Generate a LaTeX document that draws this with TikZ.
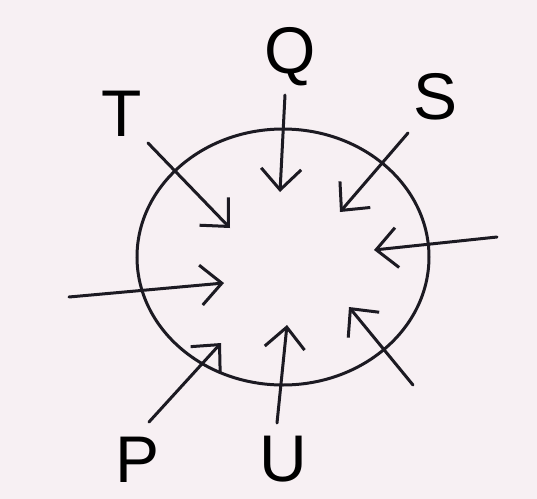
\documentclass[tikz,border=0pt]{standalone}
\usepackage{fontspec}
\setmainfont{Liberation Sans}
\usetikzlibrary{arrows.meta}
\definecolor{paper}{RGB}{247,240,243}
\definecolor{ink}{RGB}{28,26,34}
\begin{document}
\begin{tikzpicture}[x=0.5pt, y=-0.5pt,
    >={Straight Barb[length=10.5pt, width=20pt, line width=1.5pt]},
    flow/.style={->, ink, line width=1.5pt, line cap=round},
    lbl/.style={font=\fontsize{33}{33}\selectfont, text=black, inner sep=0pt}]
    % 背景
    \fill[paper] (0,0) rectangle (537,499);
    \useasboundingbox (0,0) rectangle (537,499);

    % 外圈
    \draw[ink, line width=1.5pt] (283,257) ellipse (146 and 128);

    % 标签
    \node[lbl] (Q) at (290,57) {Q};
    \node[lbl] (T) at (122,114) {T};
    \node[lbl] (S) at (436,97) {S};
    \node[lbl] (P) at (138,460) {P};
    \node[lbl] (U) at (283,459) {U};

    % 箭头端点
    \coordinate (tT) at (148,143);  \coordinate (hT) at (230,228);
    \coordinate (tQ) at (285,95);   \coordinate (hQ) at (280,192);
    \coordinate (tS) at (408,133);  \coordinate (hS) at (340,212);
    \coordinate (tR) at (497,237);  \coordinate (hR) at (374,250);
    \coordinate (tL) at (69,297);   \coordinate (hL) at (224,283);
    \coordinate (tP) at (149,422);  \coordinate (hP) at (221,343);
    \coordinate (tU) at (277,423);  \coordinate (hU) at (287,325);
    \coordinate (tD) at (413,385);  \coordinate (hD) at (349,307);

    % 指向圈内的箭头
    \draw[flow] (tT) -- (hT);
    \draw[flow] (tQ) -- (hQ);
    \draw[flow] (tS) -- (hS);
    \draw[flow] (tR) -- (hR);
    \draw[flow] (tL) -- (hL);
    \draw[flow] (tP) -- (hP);
    \draw[flow] (tU) -- (hU);
    \draw[flow] (tD) -- (hD);
\end{tikzpicture}
\end{document}
